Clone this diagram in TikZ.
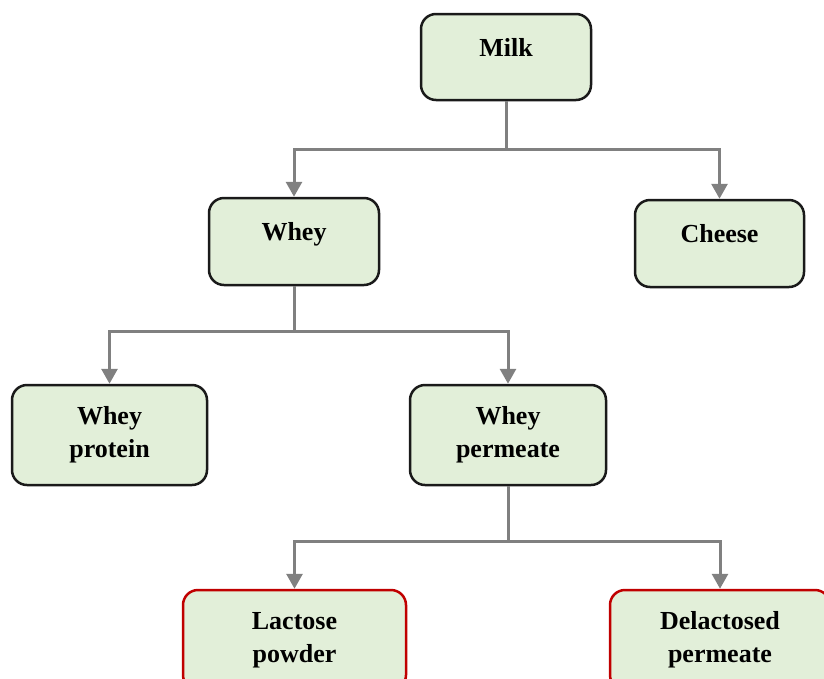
\documentclass[tikz,border=0pt]{standalone}
\usepackage{fontspec}
\setmainfont{Liberation Serif}
\usepackage{tikz}
\usetikzlibrary{arrows.meta}
\usepackage{xcolor}
\definecolor{boxFill}{HTML}{E2EFD9}
\definecolor{boxEdge}{HTML}{1A1A1A}
\definecolor{productEdge}{HTML}{C00000}
\definecolor{linkGray}{HTML}{808080}
\tikzset{
    FlowBox/.style={draw=boxEdge, fill=boxFill, line width=2.5pt, rounded corners=15pt,
        align=center, font=\fontsize{26}{33}\selectfont\bfseries, inner sep=0pt},
    OneLine/.style={text depth=20pt},
    ProductBox/.style={FlowBox, draw=productEdge},
    LinkArrow/.style={-{Triangle[length=15pt, width=16pt]}, draw=linkGray, line width=3pt}
}
\begin{document}
\begin{tikzpicture}[x=1pt, y=-1pt]
    \clip (0,0) rectangle (824,678);
    \useasboundingbox (0,0) rectangle (824,678);

    % process stages
    \node[FlowBox, OneLine, minimum width=170pt, minimum height=86pt] (milk) at (506, 57) {Milk};
    \node[FlowBox, OneLine, minimum width=170pt, minimum height=87pt] (whey) at (294, 241.5) {Whey};
    \node[FlowBox, OneLine, minimum width=169pt, minimum height=87pt] (cheese) at (719.5, 243.5) {Cheese};
    \node[FlowBox, minimum width=195pt, minimum height=100pt] (wheyProt) at (109.5, 435) {Whey\\protein};
    \node[FlowBox, minimum width=196pt, minimum height=100pt] (wheyPerm) at (508, 435) {Whey\\permeate};

    % end products
    \node[ProductBox, minimum width=223pt, minimum height=100pt] (lactose) at (294.5, 640) {Lactose\\powder};
    \node[ProductBox, minimum width=220pt, minimum height=100pt] (delact) at (720, 640) {Delactosed\\permeate};

    % branches
    \draw[LinkArrow] (milk.south) -- ++(0,48) -| (whey.north);
    \draw[LinkArrow] (milk.south) -- ++(0,48) -| (cheese.north);
    \draw[LinkArrow] (whey.south) -- ++(0,45) -| (wheyProt.north);
    \draw[LinkArrow] (whey.south) -- ++(0,45) -| (wheyPerm.north);
    \draw[LinkArrow] (wheyPerm.south) -- ++(0,55) -| (lactose.north);
    \draw[LinkArrow] (wheyPerm.south) -- ++(0,55) -| (delact.north);
\end{tikzpicture}
\end{document}
